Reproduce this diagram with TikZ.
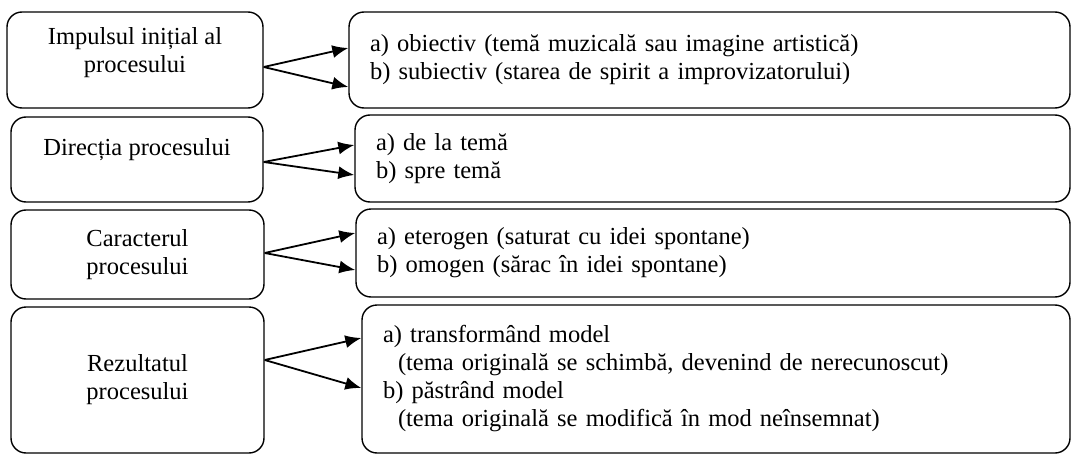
\documentclass[tikz,border=0pt]{standalone}
\usepackage{fontspec}
\setmainfont{Liberation Serif}
\usepackage{tikz}
\usetikzlibrary{arrows.meta}
\tikzset{leftbox/.style = {draw, rounded corners=15pt, line width=1.4pt,
                           align=center, inner sep=0pt,
                           font=\fontsize{24.5pt}{28pt}\selectfont}}
\tikzset{rightbox/.style = {draw, rounded corners=15pt, line width=1.4pt,
                            align=left, inner xsep=21pt, inner ysep=0pt,
                            font=\fontsize{24.5pt}{28pt}\selectfont}}
\tikzset{fork/.style = {line width=1.8pt, -{Latex[length=16pt,width=13pt]}}}

\begin{document}
\begin{tikzpicture}[x=1pt, y=-1pt]
      \useasboundingbox (0, 0) rectangle (1072, 455);

      \node [leftbox, minimum width=256pt, minimum height=96pt, text depth=20pt] (impulse) at (135, 60) {Impulsul inițial al\\procesului};
      \node [leftbox, minimum width=252pt, minimum height=85pt, text depth=26pt] (direction) at (137, 159.5) {Direcția procesului};
      \node [leftbox, minimum width=253pt, minimum height=89pt] (character) at (137.5, 254.5) {Caracterul\\procesului};
      \node [leftbox, minimum width=253pt, minimum height=146pt] (result) at (137.5, 380) {Rezultatul\\procesului};

      \node [rightbox, text width=679pt, minimum height=96pt] (impulseopts) at (709.5, 60) {a) obiectiv (temă muzicală sau imagine artistică)\\b) subiectiv (starea de spirit a improvizatorului)};
      \node [rightbox, text width=673pt, minimum height=87pt] (directionopts) at (712.5, 158.5) {a) de la temă\\b) spre temă};
      \node [rightbox, text width=672pt, minimum height=88pt] (characteropts) at (713, 253) {a) eterogen (saturat cu idei spontane)\\b) omogen (sărac în idei spontane)};
      \node [rightbox, text width=666pt, minimum height=148pt] (resultopts) at (716, 379) {a) transformând model\\\hspace*{15pt}(tema originală se schimbă, devenind de nerecunoscut)\\b) păstrând model\\\hspace*{15pt}(tema originală se modifică în mod neînsemnat)};

      \draw [fork] ([yshift=-7pt]impulse.east) -- ([yshift=12pt]impulseopts.west);
      \draw [fork] ([yshift=-7pt]impulse.east) -- ([yshift=-27pt]impulseopts.west);

      \draw [fork] ([yshift=-2.5pt]direction.east) -- ([yshift=13.5pt]directionopts.west);
      \draw [fork] ([yshift=-2.5pt]direction.east) -- ([yshift=-16.5pt]directionopts.west);

      \draw [fork] ([yshift=1.5pt]character.east) -- ([yshift=20pt]characteropts.west);
      \draw [fork] ([yshift=1.5pt]character.east) -- ([yshift=-17pt]characteropts.west);

      \draw [fork] ([yshift=20pt]result.east) -- ([yshift=41pt]resultopts.west);
      \draw [fork] ([yshift=20pt]result.east) -- ([yshift=-9pt]resultopts.west);
    \end{tikzpicture}
\end{document}
